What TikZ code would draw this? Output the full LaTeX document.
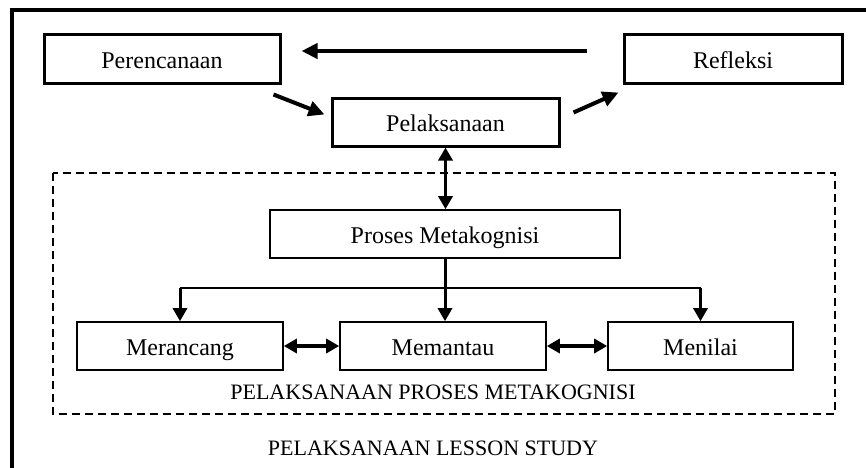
\documentclass[tikz,border=0pt]{standalone}
\usepackage{fontspec}
\setmainfont{Liberation Serif}
\usetikzlibrary{arrows.meta}

\tikzset{
  thickbox/.style={draw, line width=3pt, inner sep=0pt, text height=19pt, text depth=0pt, font=\fontsize{24}{28}\selectfont},
  thinbox/.style={draw, line width=1.6pt, inner sep=0pt, text height=18.5pt, text depth=0pt, font=\fontsize{24}{28}\selectfont},
  bigarrow/.style={line width=4pt, -{Triangle[length=16pt,width=15pt]}},
  twoway/.style={line width=3.5pt, {Triangle[length=13pt,width=14pt]}-{Triangle[length=13pt,width=14pt]}},
  droparrow/.style={line width=3pt, -{Triangle[length=13pt,width=14pt]}},
  caption/.style={font=\fontsize{22}{26}\selectfont}
}

\begin{document}
\begin{tikzpicture}[x=1pt,y=-1pt]
                  \useasboundingbox (0,0) rectangle (866,467);
                  \clip (0,0) rectangle (866,467);

                  % Outer frame (cut off at right and bottom)
                  \draw[line width=4pt] (12,480) -- (12,10) -- (880,10);

                  % Lesson study cycle
                  \node[thickbox, minimum width=236pt, minimum height=49pt] (perencanaan) at (162,58.5) {Perencanaan};
                  \node[thickbox, minimum width=218pt, minimum height=49pt] (refleksi) at (733,58.5) {Refleksi};
                  \node[thickbox, minimum width=227pt, minimum height=48pt] (pelaksanaan) at (445.5,122) {Pelaksanaan};

                  \draw[bigarrow] ([shift={(-36,-7.5)}]refleksi.west) -- ([shift={(20,-7.5)}]perencanaan.east);
                  \draw[bigarrow] ([shift={(-8,10)}]perencanaan.south east) -- ([shift={(-6,18)}]pelaksanaan.north west);
                  \draw[bigarrow] ([shift={(13,16)}]pelaksanaan.north east) -- ([shift={(-4,8)}]refleksi.south west);

                  % Metacognition process (dashed frame)
                  \draw[line width=2pt, dash pattern=on 8pt off 5pt] (53,173) rectangle (835,414);
                  \node[thinbox, minimum width=350pt, minimum height=48pt] (proses) at (445,234) {Proses Metakognisi};
                  \node[thinbox, minimum width=206pt, minimum height=48pt] (merancang) at (180,346) {Merancang};
                  \node[thinbox, minimum width=206pt, minimum height=48pt] (memantau) at (443,346) {Memantau};
                  \node[thinbox, minimum width=185pt, minimum height=48pt] (menilai) at (700.5,346) {Menilai};

                  \draw[twoway] (pelaksanaan.south) -- (pelaksanaan.south |- proses.north);

                  % Branches down from the process
                  \coordinate (split) at ([yshift=-29pt]proses.south);
                  \draw[line width=1.6pt] (merancang.north |- split) -- (menilai.north |- split);
                  \draw[droparrow] (proses.south) -- (proses.south |- memantau.north);
                  \draw[droparrow] (merancang.north |- split) -- (merancang.north);
                  \draw[droparrow] (menilai.north |- split) -- (menilai.north);

                  \draw[twoway] (merancang.east) -- (memantau.west);
                  \draw[twoway] (memantau.east) -- (menilai.west);

                  % Captions
                  \node[caption] (capmeta) at (433,392) {PELAKSANAAN PROSES METAKOGNISI};
                  \node[caption] (caplesson) at (433,448) {PELAKSANAAN LESSON STUDY};

            \end{tikzpicture}
\end{document}
